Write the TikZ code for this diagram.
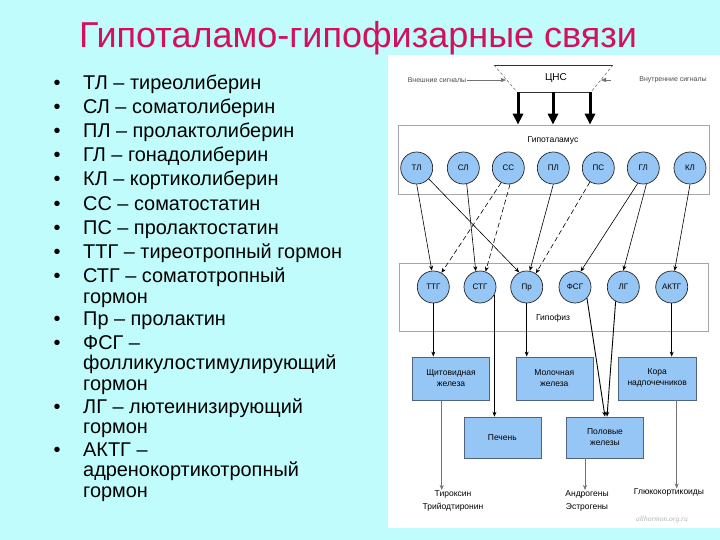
\documentclass[tikz,border=0pt]{standalone}
\usepackage{fontspec}
\setmainfont{Liberation Sans}
\newfontfamily\wmfont{Liberation Serif}
\usetikzlibrary{arrows.meta}
\definecolor{bgcyan}{RGB}{192,252,252}
\definecolor{titlecol}{RGB}{212,16,92}
\definecolor{nodeblue}{RGB}{150,198,245}
\definecolor{nodeedge}{RGB}{80,100,130}
\begin{document}
\begin{tikzpicture}[x=1pt,y=-1pt,
  hcirc/.style={circle, draw=black!85, line width=0.7pt, fill=nodeblue, minimum size=32pt, inner sep=0pt, text height=5.8pt, text depth=0pt, font=\fontsize{8}{9}\selectfont},
  organ/.style={rectangle, draw=nodeedge, line width=0.5pt, fill=nodeblue, minimum width=77pt, minimum height=43pt, inner sep=1pt, align=center, font=\fontsize{8.5}{11}\selectfont},
  panel/.style={rectangle, draw=black!35, line width=0.6pt, fill=white, inner sep=0pt},
  link/.style={-{Stealth[length=5pt,width=4pt]}, line width=0.6pt, black},
  inhib/.style={link, dash pattern=on 5pt off 3pt},
  outlink/.style={-{Stealth[length=5pt,width=4pt]}, line width=0.5pt, black!55},
  bigarrow/.style={-{Triangle[length=11pt,width=10pt]}, line width=3pt},
  listtext/.style={anchor=base west, font=\fontsize{19.9}{21}\selectfont, inner sep=0pt},
  bulletmark/.style={anchor=base, font=\fontsize{19.9}{21}\selectfont, inner sep=0pt},
  small/.style={font=\fontsize{8.5}{10.5}\selectfont, inner sep=0pt, align=center},
  tiny/.style={font=\fontsize{7}{8}\selectfont, inner sep=1pt, text=black!70}
]
\useasboundingbox (0,0) rectangle (720,540);
\fill[bgcyan] (0,0) rectangle (720,540);
\fill[white] (388,55) rectangle (720,528);

% title
\node[anchor=base, text=titlecol, font=\fontsize{36}{40}\selectfont, inner sep=0pt] (title) at (358,48) {Гипоталамо-гипофизарные связи};

% list: bullets
\foreach \y [count=\i] in {90,114,138,162,186,210.5,234.5,258.5,282.5,325.5,349,413,456} {
  \node[bulletmark] (b\i) at (57,\y) {•};
}
% list: lines
\foreach \y/\t [count=\i] in {90/{ТЛ – тиреолиберин}, 114/{СЛ – соматолиберин}, 138/{ПЛ – пролактолиберин}, 162/{ГЛ – гонадолиберин}, 186/{КЛ – кортиколиберин}, 210.5/{СС – соматостатин}, 234.5/{ПС – пролактостатин}, 258.5/{ТТГ – тиреотропный гормон}, 282.5/{СТГ – соматотропный}, 303/{гормон}, 325.5/{Пр – пролактин}, 349/{ФСГ –}, 369.5/{фолликулостимулирующий}, 390/{гормон}, 413/{ЛГ – лютеинизирующий}, 433.5/{гормон}, 456/{АКТГ –}, 476.5/{адренокортикотропный}, 497/{гормон}} {
  \node[listtext] (li\i) at (83,\y) {\t};
}

% CNS trapezoid
\draw[black!80, line width=0.6pt] (494,65) -- (613,65);
\draw[black!60, densely dashed, line width=0.5pt] (494,65) -- (517,92);
\draw[black!60, densely dashed, line width=0.5pt] (613,65) -- (591,92);
\draw[black!80, line width=0.6pt] (517,92) -- (591,92);
\node[font=\fontsize{10}{12}\selectfont, inner sep=0pt] (cns) at (556,78) {ЦНС};
\coordinate (c1) at (518,92);
\coordinate (c2) at (553,92);
\coordinate (c3) at (590,92);

\node[tiny] (ext) at (437,80) {Внешние сигналы};
\node[tiny] (int) at (673,80) {Внутренние сигналы};
\coordinate (extin) at (506,80);
\coordinate (intfrom) at (611,80);
\coordinate (intin) at (601,80);
\draw[black!55, line width=0.5pt, -{Triangle[length=5pt,width=4pt]}] (ext.east) -- (extin);
\draw[black!55, line width=0.5pt, -{Triangle[length=5pt,width=4pt]}] (intfrom) -- (intin);

% panels
\node[panel, minimum width=311pt, minimum height=69pt] (hyp) at (553.5,159.5) {};
\node[small] (hyplab) at (553,140) {Гипоталамус};
\node[panel, minimum width=309pt, minimum height=68pt] (pit) at (553.5,297) {};
\node[small] (pitlab) at (553,318) {Гипофиз};

\draw[bigarrow] (c1) -- (c1 |- hyp.north);
\draw[bigarrow] (c2) -- (c2 |- hyp.north);
\draw[bigarrow] (c3) -- (c3 |- hyp.north);

% hypothalamus circles
\node[hcirc] (h1) at (416.7,168) {ТЛ};
\node[hcirc] (h2) at (463.3,168) {СЛ};
\node[hcirc] (h3) at (508.3,168) {СС};
\node[hcirc] (h4) at (553.3,168) {ПЛ};
\node[hcirc] (h5) at (598.3,168) {ПС};
\node[hcirc] (h6) at (643.3,168) {ГЛ};
\node[hcirc] (h7) at (690,168) {КЛ};

% pituitary circles
\node[hcirc] (p1) at (433.3,287) {ТТГ};
\node[hcirc] (p2) at (480,287) {СТГ};
\node[hcirc] (p3) at (526.7,287) {Пр};
\node[hcirc] (p4) at (575,287) {ФСГ};
\node[hcirc] (p5) at (623.3,287) {ЛГ};
\node[hcirc] (p6) at (671.7,287) {АКТГ};

% releasing / inhibiting links
\draw[link] (h1.-90) -- (p1.95);
\draw[link] (h1.-42) -- (p3.117);
\draw[link] (h2.-78) -- (p2.105);
\draw[inhib] (h3.-116) -- (p1.60);
\draw[inhib] (h3.-84) -- (p2.70);
\draw[link] (h4.-90) -- (p3.79);
\draw[inhib] (h5.-121) -- (p3.56);
\draw[link] (h6.-110) -- (p4.70);
\draw[link] (h6.-79) -- (p5.90);
\draw[link] (h7.-90) -- (p6.80);

% target organs
\node[organ] (shch) at (451,378.3) {Щитовидная\\железа};
\node[organ] (mol) at (554.3,378.3) {Молочная\\железа};
\node[organ, minimum width=78pt] (kora) at (657.2,378.3) {Кора\\надпочечников};
\node[organ, minimum height=41pt] (pech) at (502.3,437.5) {Печень};
\node[organ, minimum height=41pt] (pol) at (605,437.5) {Половые\\железы};

\draw[link] (p1.south) -- (p1.south |- shch.north);
\draw[link] (p2.-28) -- (p2.-28 |- pech.north);
\draw[link] (p3.south) -- (p3.south |- mol.north);
\draw[link, line width=0.9pt] (p4.-43) -- (pol.north);
\draw[link, line width=0.9pt] (p5.-118) -- ([xshift=2pt]pol.north);
\draw[link] (p6.south) -- (p6.south |- kora.north);

% hormones
\node[small, font=\fontsize{8.5}{13}\selectfont] (tyr) at (453,500.5) {Тироксин\\Трийодтиронин};
\node[small, font=\fontsize{8.5}{13}\selectfont] (andr) at (587,500.5) {Андрогены\\Эстрогены};
\node[small, font=\fontsize{8.5}{13}\selectfont, anchor=north] (gluc) at (669,488.5) {Глюкокортикоиды};

\draw[outlink] ([xshift=-9.3pt]shch.south) -- ([xshift=-9.3pt]shch.south |- tyr.north);
\draw[outlink] ([xshift=-20pt]pol.south) -- ([xshift=-20pt]pol.south |- andr.north);
\draw[outlink] ([xshift=19.5pt]kora.south) -- ([xshift=19.5pt]kora.south |- gluc.north);

\node[font=\wmfont\itshape\fontsize{7.5}{9}\selectfont, text=black!30, inner sep=0pt] (wm) at (662,520) {allhormon.org.ru};
\end{tikzpicture}
\end{document}
